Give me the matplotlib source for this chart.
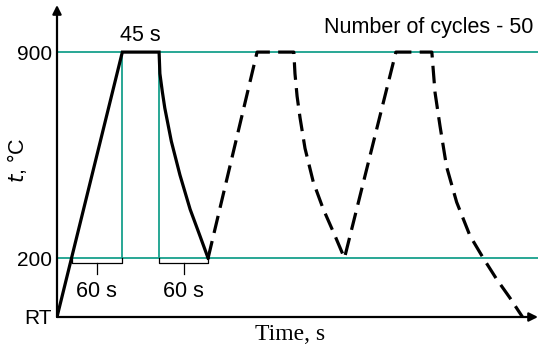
import matplotlib.pyplot as plt

plt.rcParams['font.family'] = ['Liberation Sans', 'DejaVu Sans']

# temperature levels (RT drawn at 0)
levels = [0, 200, 900]
level_labels = ['RT', '200', '900']

# first cycle, solid: heating, 45 s hold, cooling to 200
solid_t = [0, 80, 125, 126, 129, 132, 140, 150.5, 163, 175, 185]
solid_T = [0, 900, 900, 827, 765, 710, 597, 483, 366, 276, 200]

# following cycles, dashed
dash_t = [185, 245, 290, 291.4, 294, 297.6, 303.7, 313.8, 326, 340.4, 352,
          415, 459, 462.9, 469, 477, 489.4, 505.7, 522, 538, 554.6, 570]
dash_T = [200, 900, 900, 827, 750, 677, 573, 459, 367, 276, 200,
          900, 900, 763, 649, 511, 390, 276, 200, 130, 65, 0]

# brackets under the 200 line: (start, end, label)
brackets = [(17.8, 80, '60 s'), (125, 185, '60 s')]
hold_label = '45 s'
cycles_label = 'Number of cycles - 50'

teal = '#17a08c'
fig = plt.figure(figsize=(5.4, 3.48), dpi=100)
ax = fig.add_axes([57 / 540, 31 / 348, 481 / 540, 312 / 348])
ax.set_xlim(0, 589)
ax.set_ylim(0, 1060)
for s in ax.spines.values():
    s.set_visible(False)
ax.set_xticks([])
ax.set_yticks(levels, level_labels, fontsize=15)
ax.tick_params(axis='y', length=0, pad=3.5)

# reference lines
ax.axhline(900, color=teal, lw=1.3, zorder=1)
ax.axhline(200, color=teal, lw=1.3, zorder=1)
ax.vlines([solid_t[1], solid_t[2]], 200, 900, color=teal, lw=1.3, zorder=1)

ax.plot(solid_t, solid_T, color='black', lw=2.3, solid_joinstyle='miter', zorder=3)
ax.plot(dash_t, dash_T, color='black', lw=2.3, dashes=(5.5, 2.6), zorder=3)

# axes with arrows
arrow = dict(arrowstyle='-|>', lw=1.6, color='black', mutation_scale=13, shrinkA=0, shrinkB=0)
ax.annotate('', xy=(0, 1), xytext=(0, 0), xycoords='axes fraction', arrowprops=arrow)
ax.annotate('', xy=(1, 0), xytext=(0, 0), xycoords='axes fraction', arrowprops=arrow)

# brackets
for a, b, lab in brackets:
    m = (a + b) / 2
    ax.plot([a, a, b, b], [200, 182, 182, 200], color='black', lw=0.9)
    ax.plot([m, m], [182, 145], color='black', lw=0.9)
    ax.text(m, 88, lab, ha='center', va='center', fontsize=15.5)

ax.text((solid_t[1] + solid_t[2]) / 2, 958, hold_label, ha='center', va='center', fontsize=15.5)
ax.text(583, 982, cycles_label, ha='right', va='center', fontsize=15.5)

fig.text(290 / 540, 1 - 334 / 348, 'Time, s', family='Liberation Serif', fontsize=17,
         ha='center', va='center')
fig.text(17 / 540, 1 - 160 / 348, '$t$, °C', rotation=90, ha='center', va='center', fontsize=15.5)

fig.savefig('out.png', dpi=100)
